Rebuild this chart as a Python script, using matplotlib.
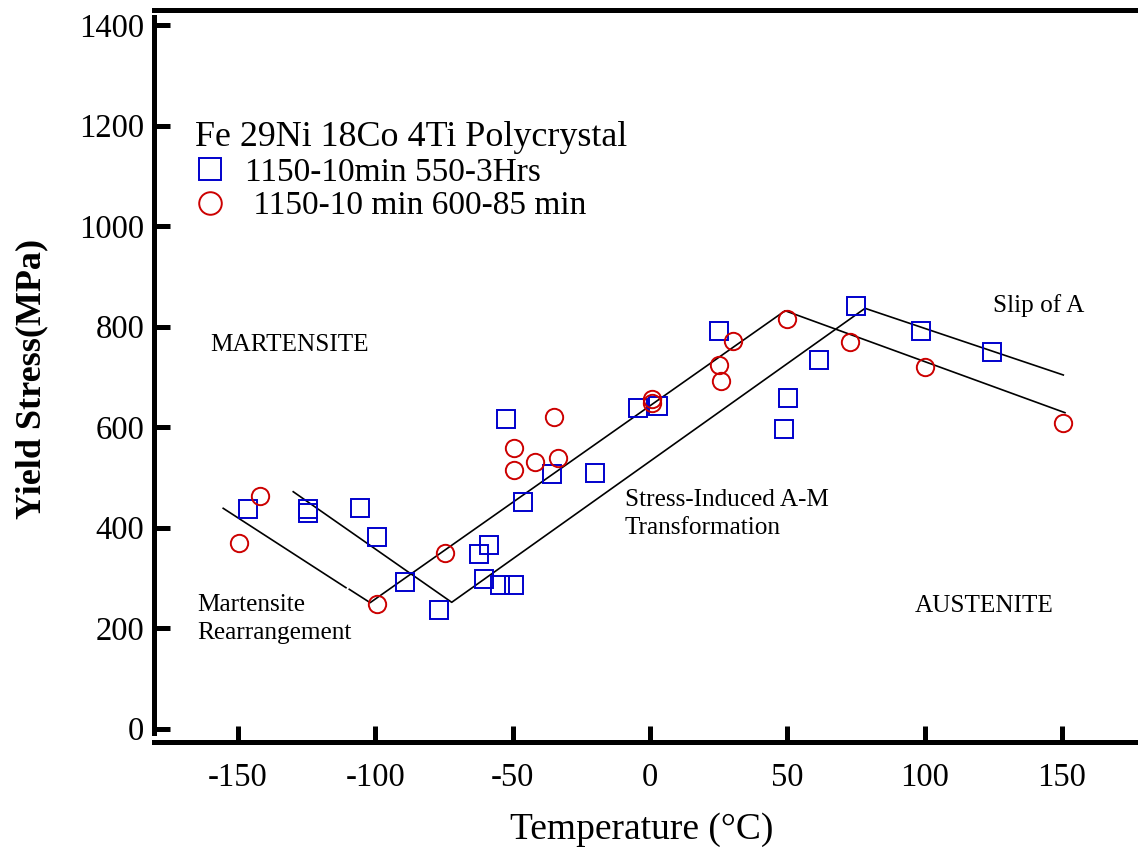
import numpy as np
import matplotlib
matplotlib.use('Agg')
import matplotlib.pyplot as plt

plt.rcParams['font.family'] = ['Liberation Serif', 'DejaVu Serif']
plt.rcParams['axes.unicode_minus'] = False

# 1150-10min 550-3Hrs (blue squares)
sq_T = [-146.5, -124.5, -124.5, -105.6, -99.5, -89.2, -76.7, -62.4, -58.5, -60.6,
        -54.6, -49.4, -46.4, -52.4, -35.8, -19.9, -4.5, 3.0, 25.1, 50.1,
        48.8, 61.5, 75.1, 98.7, 124.5]
sq_Y = [436.6, 436.6, 430.0, 438.6, 381.0, 292.5, 236.2, 347.7, 365.0, 298.5,
        286.0, 286.0, 450.5, 616.3, 506.3, 508.3, 638.2, 642.2, 791.4, 658.7,
        595.8, 733.7, 841.2, 791.4, 749.0]

# 1150-10 min 600-85 min (red circles)
ci_T = [-149.6, -142.0, -99.5, -74.5, -49.5, -49.5, -41.8, -35.0, -33.4, 0.9,
        0.9, 25.1, 25.7, 30.3, 50.0, 72.8, 100.3, 150.5]
ci_Y = [369.0, 463.0, 248.0, 349.0, 559.0, 514.0, 530.7, 620.3, 538.0, 656.0,
        647.5, 723.8, 692.0, 771.0, 814.7, 770.0, 720.4, 609.0]

# guide lines (segments)
ln1a_T = [-155.4, -110.7]
ln1a_Y = [438.6, 280.6]
ln1b_T = [-109.5, -101.9, 49.2, 151.1]
ln1b_Y = [277.4, 250.8, 831.8, 628.9]
ln2_T = [-129.9, -72.2, 78.3, 150.5]
ln2_Y = [471.6, 251.5, 836.6, 703.9]

xticks = [-150, -100, -50, 0, 50, 100, 150]
yticks = [0, 200, 400, 600, 800, 1000, 1200, 1400]

fig = plt.figure(figsize=(11.38, 8.48), dpi=100)
ax = fig.add_axes([154/1138, 106.3/848, 984/1138, 731.7/848])

for t, y in [(ln1a_T, ln1a_Y), (ln1b_T, ln1b_Y), (ln2_T, ln2_Y)]:
    ax.plot(t, y, color='k', lw=1.2, zorder=2)

ax.plot(sq_T, sq_Y, ls='none', marker='s', ms=12.5, mfc='none', mec='#0000cc',
        mew=1.4, label='1150-10min 550-3Hrs', zorder=3)
ax.plot(ci_T, ci_Y, ls='none', marker='o', ms=12.5, mfc='none', mec='#cc0000',
        mew=1.4, label=' 1150-10 min 600-85 min', zorder=3)

ax.set_xlim(-180.6, 177.7)
ax.set_ylim(-25.9, 1430.3)
ax.set_xticks(xticks)
ax.set_yticks(yticks)

ax.spines['right'].set_visible(False)
for s in ['left', 'bottom', 'top']:
    ax.spines[s].set_linewidth(3.6)
ax.spines['left'].set_bounds(-8.6, 1417)

ax.tick_params(axis='both', direction='in', length=11.5, width=3.6, labelsize=23.5)
ax.tick_params(axis='y', pad=7)
ax.tick_params(axis='x', pad=15)
ax.tick_params(top=False, right=False)

ax.set_xlabel('Temperature (°C)', fontsize=27)
ax.xaxis.set_label_coords(0.496, -0.096)
ax.set_ylabel('Yield Stress(MPa)', fontsize=26, fontweight='bold')
ax.yaxis.set_label_coords(-0.107, 0.496)

leg = ax.legend(title='Fe 29Ni 18Co 4Ti Polycrystal', loc='upper left',
                bbox_to_anchor=(41/984, (742-121)/731.7), frameon=False,
                alignment='left', fontsize=24, title_fontsize=25.9,
                handlelength=0.9, handletextpad=0.6, borderpad=0,
                borderaxespad=0, labelspacing=0.1, markerscale=1.3)

tsize = 18.2
ax.text(-160.2, 763, 'MARTENSITE', fontsize=tsize, va='center', ha='left')
ax.text(-165.0, 218, 'Martensite\nRearrangement', fontsize=tsize, va='center',
        ha='left', linespacing=1.32)
ax.text(-9.1, 427, 'Stress-Induced A-M\nTransformation', fontsize=tsize,
        va='center', ha='left', linespacing=1.32)
ax.text(96.5, 244, 'AUSTENITE', fontsize=tsize, va='center', ha='left')
ax.text(124.9, 843, 'Slip of A', fontsize=tsize, va='center', ha='left')

fig.savefig('out.png', dpi=100)
